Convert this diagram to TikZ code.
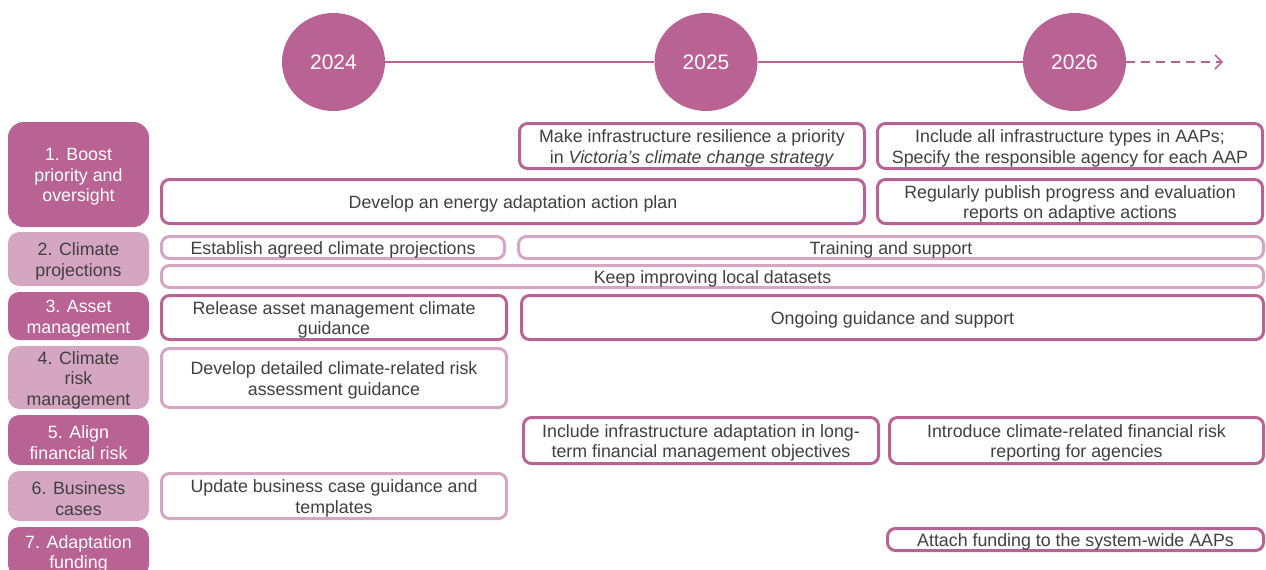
\documentclass[tikz,border=0pt]{standalone}
\usepackage{fontspec}
\setmainfont{Liberation Sans}
\usetikzlibrary{shapes.geometric,arrows.meta}

\definecolor{pinkdark}{RGB}{184,99,147}
\definecolor{pinklight}{RGB}{213,166,194}
\definecolor{textgray}{RGB}{64,64,64}

\newcommand\bodyfont{\fontsize{17.8pt}{20.5pt}\selectfont}
\newcommand\yearfont{\fontsize{21pt}{24pt}\selectfont}

% \cell{name}{x1}{y1}{x2}{y2}{style}{text}: box whose outer edge spans (x1,y1)-(x2,y2),
% with its text set optically centred (a little below the geometric centre)
\newcommand\cell[7]{%
  \node[#6, minimum width={#4pt-#2pt-3pt}, minimum height={#5pt-#3pt-3pt}]
    (#1) at ({(#2+#4)/2},{(#3+#5)/2}) {};
  \node[#6, draw=none, fill=none, minimum size=0pt] (#1t) at ([yshift=-2.5pt]#1.center) {#7};}

\tikzset{
  base/.style={line width=3pt, inner sep=0pt, align=center, font=\bodyfont},
  labdark/.style={base, rounded corners=10pt, draw=pinkdark, fill=pinkdark, text=white},
  lablight/.style={base, rounded corners=10pt, draw=pinklight, fill=pinklight, text=textgray},
  act/.style={base, rounded corners=8pt, fill=white, text=textgray},
  actdark/.style={act, draw=pinkdark},
  actlight/.style={act, draw=pinklight},
  yearnode/.style={ellipse, fill=pinkdark, text=white, inner sep=0pt,
    minimum width=103pt, minimum height=98pt, font=\yearfont},
  timeline/.style={draw=pinkdark, line width=1.5pt},
}

\begin{document}
\begin{tikzpicture}[x=1pt, y=-1pt]
\useasboundingbox (0,0) rectangle (1266,570);

% timeline
\node[yearnode] (y24) at (333.5,62) {2024};
\node[yearnode] (y25) at (706,62) {2025};
\node[yearnode] (y26) at (1074.5,62) {2026};
\coordinate (later) at (1223,62);
\draw[timeline] (y24) -- (y25);
\draw[timeline] (y25) -- (y26);
\draw[timeline, dash pattern=on 9pt off 6pt,
  -{Straight Barb[length=7pt, width=14pt, line width=1.5pt]}] (y26) -- (later);

% row labels
\cell{l1}{8}{122}{149}{227}{labdark, rounded corners=14pt}{1. Boost\\priority and\\oversight}
\cell{l2}{8}{232}{149}{286}{lablight}{2. Climate\\projections}
\cell{l3}{8}{292}{149}{340}{labdark}{3. Asset\\management}
\cell{l4}{8}{346}{149}{409}{lablight}{4. Climate\\risk\\management}
\cell{l5}{8}{415}{149}{465}{labdark}{5. Align\\financial risk}
\cell{l6}{8}{471}{149}{521}{lablight}{6. Business\\cases}
\cell{l7}{8}{527}{149}{576}{labdark}{7. Adaptation\\funding}

% 1. priority and oversight
\cell{a1}{518}{122}{866}{170}{actdark}{Make infrastructure resilience a priority\\in \textit{Victoria’s climate change strategy}}
\cell{a2}{876}{122}{1264}{170}{actdark}{Include all infrastructure types in AAPs;\\Specify the responsible agency for each AAP}
\cell{a3}{160}{178}{866}{225}{actdark}{Develop an energy adaptation action plan}
\cell{a4}{876}{178}{1264}{225}{actdark}{Regularly publish progress and evaluation\\reports on adaptive actions}

% 2. climate projections
\cell{b1}{160}{235}{506}{260}{actlight}{Establish agreed climate projections}
\cell{b2}{517}{235}{1265}{260}{actlight}{Training and support}
\cell{b3}{160}{264}{1265}{289}{actlight}{Keep improving local datasets}

% 3. asset management
\cell{c1}{160}{294}{508}{341}{actdark}{Release asset management climate\\guidance}
\cell{c2}{520}{294}{1265}{341}{actdark}{Ongoing guidance and support}

% 4. risk management
\cell{d1}{160}{347}{508}{409}{actlight}{Develop detailed climate-related risk\\assessment guidance}

% 5. financial risk
\cell{e1}{522}{416}{880}{465}{actdark}{Include infrastructure adaptation in long-\\term financial management objectives}
\cell{e2}{888}{416}{1265}{465}{actdark}{Introduce climate-related financial risk\\reporting for agencies}

% 6. business cases
\cell{f1}{160}{472}{508}{520}{actlight}{Update business case guidance and\\templates}

% 7. adaptation funding
\cell{g1}{886}{527}{1265}{552}{actdark}{Attach funding to the system-wide AAPs}
\end{tikzpicture}
\end{document}
